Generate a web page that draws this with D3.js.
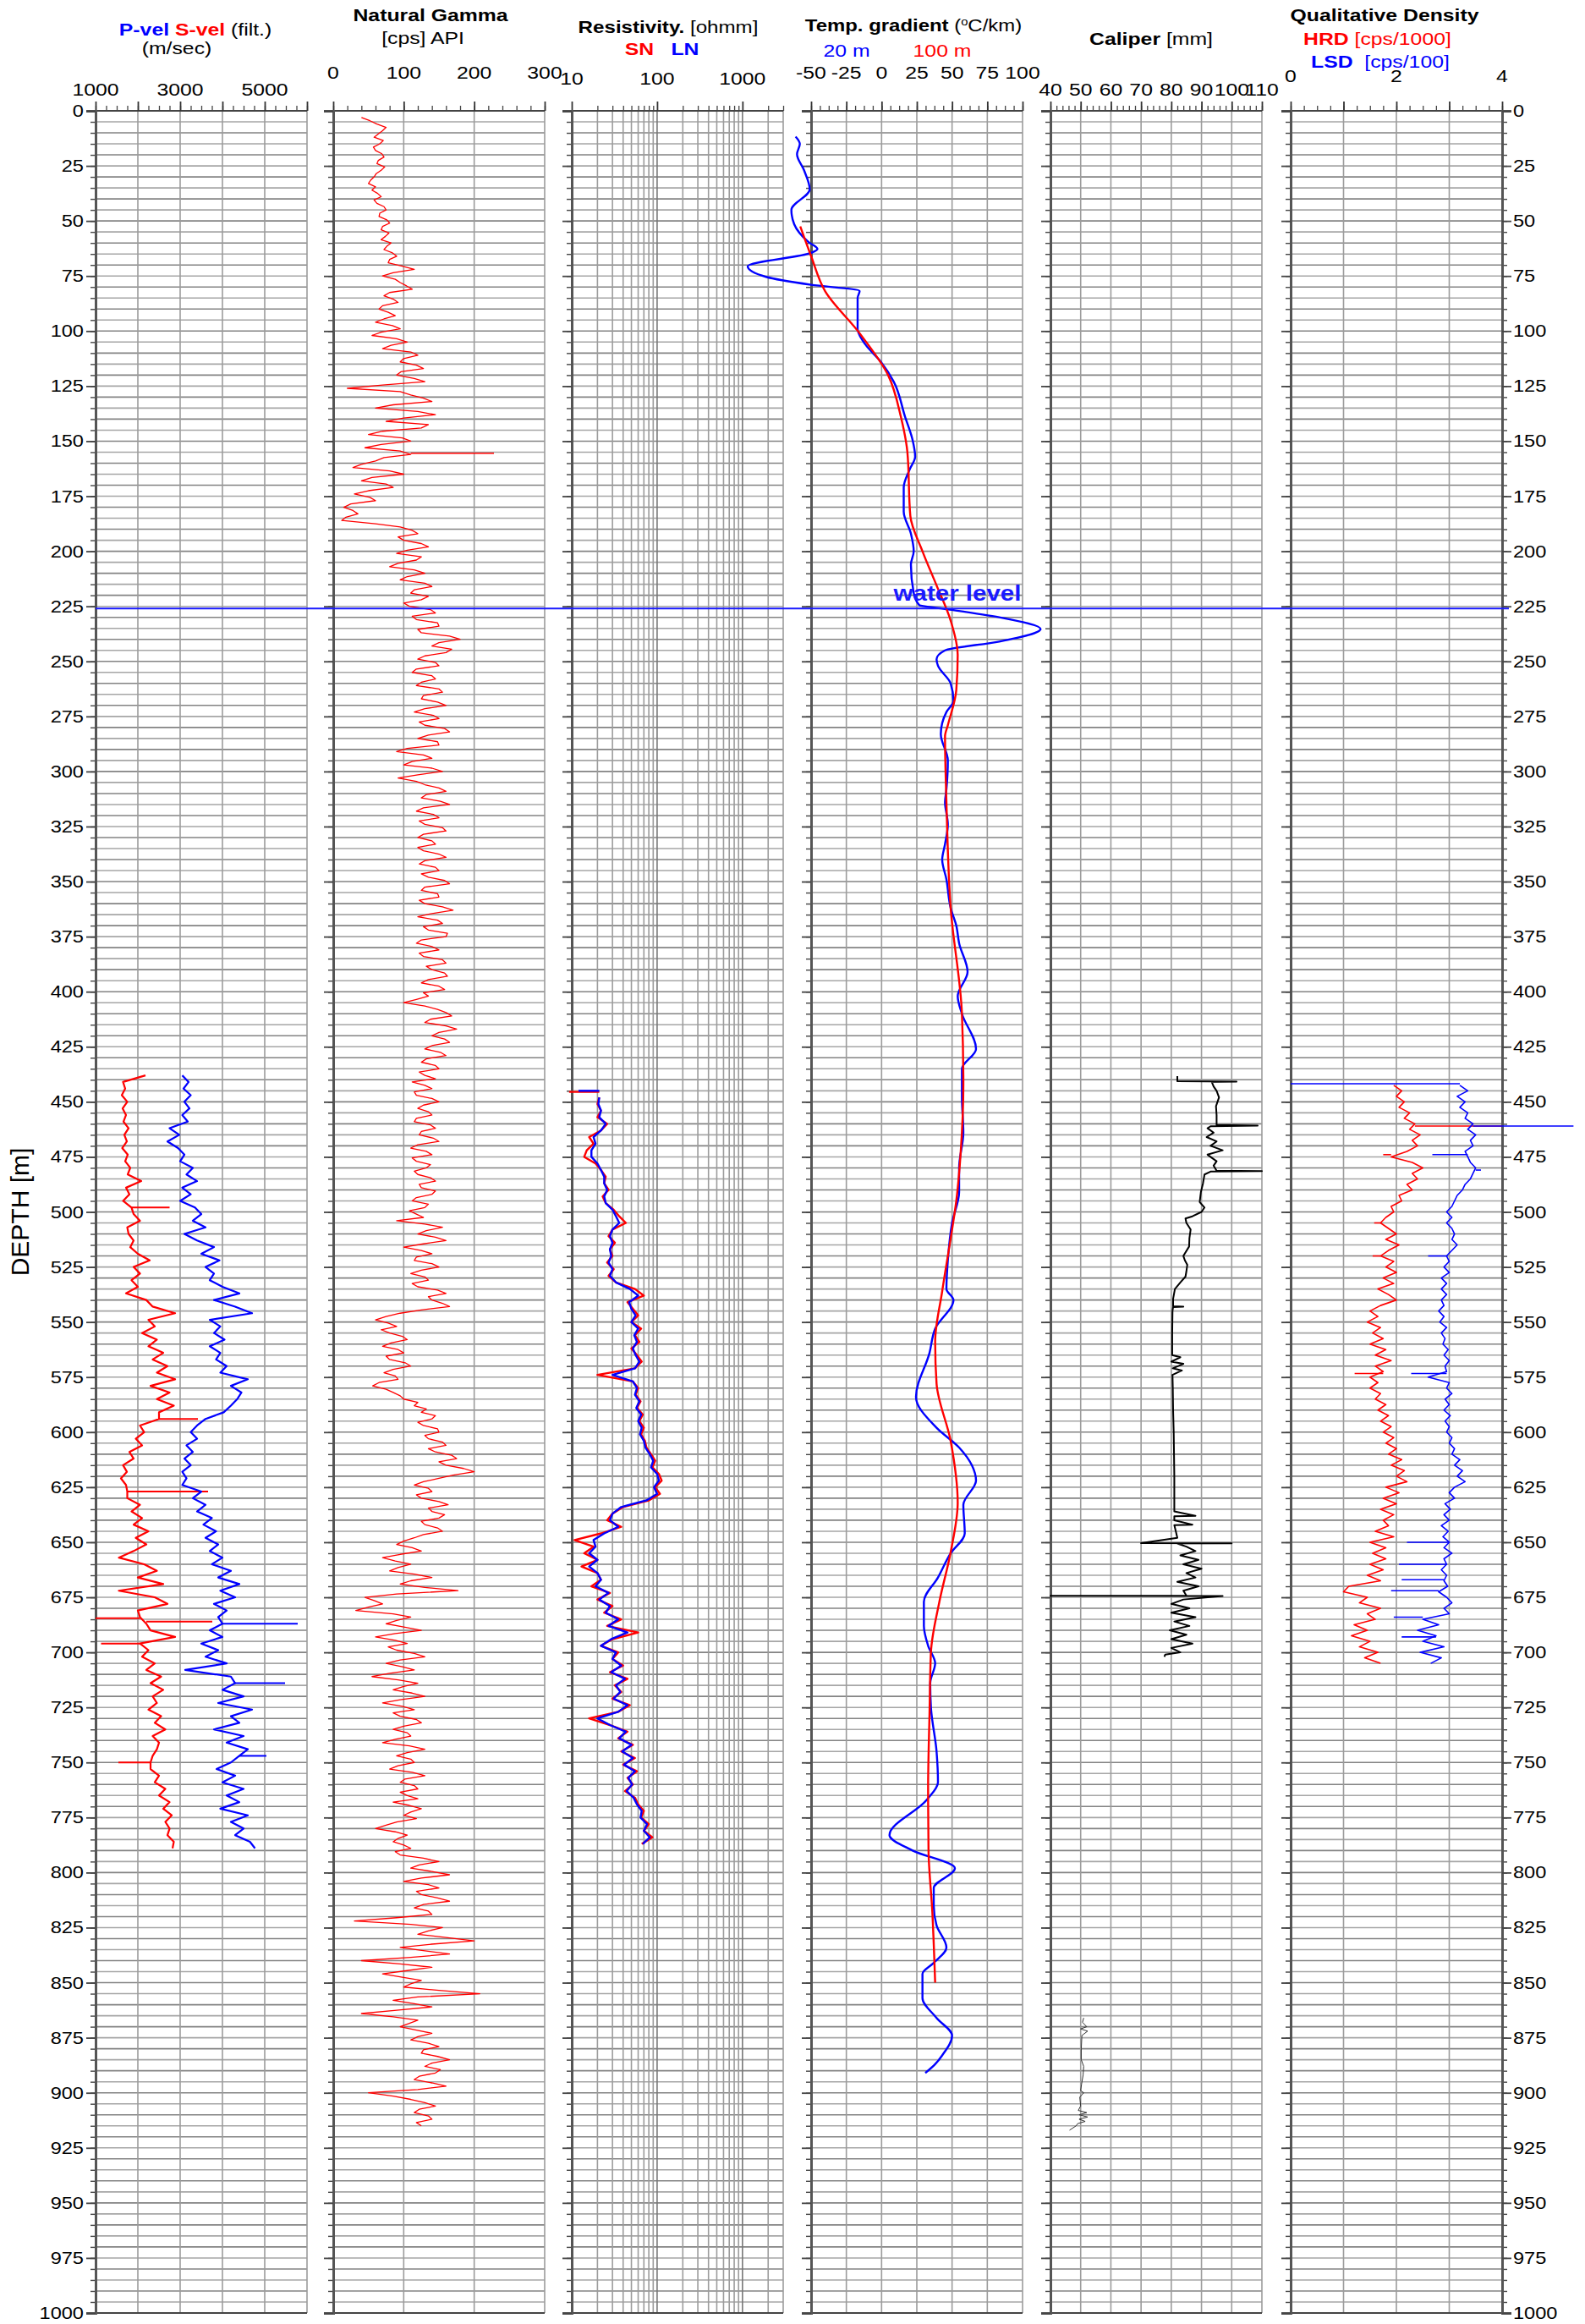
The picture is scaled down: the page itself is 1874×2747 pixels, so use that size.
<!DOCTYPE html>
<html>
<head>
<meta charset="utf-8">
<script src="https://cdn.jsdelivr.net/npm/d3@7"></script>
<style>
  body { margin: 0; background: #fff; }
  svg { display: block; }
  text { font-family: "Liberation Sans", Arial, sans-serif; white-space: pre; }
</style>
</head>
<body>
<script>
// well log, six tracks sharing one depth axis

// ---- data ----
const depthLabels = d3.range(0, 1001, 25);
const waterLevel = 226;

// velocity, every 3 m from 438 m
const velStart = 438;
const sVel = [2180,1650,1700,1620,1750,1640,1720,1660,1780,1680,1740,1630,1760,1700,1820,1760,2080,1720,1800,1650,
  1850,1900,2050,1750,1780,1900,1820,2000,2280,1900,2050,1850,2000,1720,2200,2350,2880,2250,2400,2100,
  2450,2250,2600,2350,2700,2450,2880,2300,2750,2450,2850,2500,2500,2050,2150,1950,2100,1800,1900,1650,
  1740,1600,1720,1750,1750,2050,1850,2100,1900,2250,1950,2200,1900,1550,2150,2450,2000,2600,1550,2400,
  2700,2000,2050,2200,2300,2880,2050,2250,2100,2400,2200,2550,2300,2600,2350,2450,2250,2550,2400,2650,
  2350,2500,2450,2350,2300,2300,2500,2400,2650,2500,2750,2600,2800,2650,2750,2700,2850,2820];
const pVel = [3050,3200,3080,3250,3100,3220,3050,3180,2750,2980,2700,2950,3100,3000,3300,3150,3400,3050,3250,3000,
  3350,3500,3300,3600,3100,3400,3800,3500,3930,3600,3800,3700,4000,4400,3800,4300,4700,3700,3950,3800,
  4050,3700,3950,3850,4100,3950,4600,4200,4450,4350,4200,4030,3600,3400,3250,3400,3150,3300,3100,3250,
  3050,3150,3050,3500,3300,3600,3400,3750,3550,3850,3600,3900,3700,4000,3750,4200,3900,4400,3950,4300,
  3800,4100,3900,4000,3700,4000,3500,3900,3600,4100,3120,4200,4300,4000,4500,3900,4700,4200,4400,3800,
  4500,4100,4600,4400,4200,3860,4300,4000,4500,4100,4400,3950,4600,4200,4500,4300,4650,4770];
const sVelSpikes = [[498, 2750], [594, 3420], [627, 3660], [684.5, 1000], [686, 3760], [696, 1130], [750, 1540]];
const pVelSpikes = [[687, 5780], [714, 5480], [747, 5040]];

// natural gamma, every 1.5 m from 3 m
const gammaStart = 3;
const gamma = [
  40,52,62,75,70,64,58,71,66,57,60,69,72,64,62,73,68,61,58,53,
  50,60,55,63,68,58,62,72,75,66,65,76,80,70,68,79,74,68,82,76,
  72,84,90,80,78,98,115,85,70,88,95,104,112,80,72,85,92,70,65,78,
  88,72,60,84,95,68,55,90,105,82,70,110,120,100,95,118,128,96,90,115,
  130,70,20,95,110,128,140,85,60,120,145,100,75,135,125,70,50,98,110,68,
  45,95,110,72,60,40,28,80,100,55,40,75,85,50,30,52,60,25,15,28,
  35,18,12,60,95,112,120,92,100,125,135,105,90,125,118,92,80,115,130,105,
  95,130,140,115,110,135,125,100,108,138,145,112,118,148,150,120,125,165,180,150,
  140,168,160,130,120,145,150,118,112,140,145,125,118,150,155,128,125,148,160,130,
  115,142,150,122,130,158,165,135,120,148,150,105,90,128,140,112,100,140,155,120,
  92,118,130,150,160,132,125,152,165,128,118,142,150,122,130,155,160,128,120,140,
  145,120,128,150,160,130,122,145,150,125,135,158,165,130,125,148,150,122,130,155,
  170,140,120,148,155,128,135,162,160,125,118,140,150,122,128,155,160,132,140,158,
  162,135,125,150,158,128,135,118,100,130,148,160,168,138,130,160,175,150,140,158,
  165,140,130,152,160,132,125,145,150,122,130,145,112,130,140,115,118,140,150,128,
  120,135,140,118,115,138,145,125,122,142,150,120,110,132,140,112,118,138,132,115,
  120,138,145,122,125,145,140,118,112,135,130,108,118,128,90,130,155,132,120,145,
  160,128,100,125,140,118,115,140,150,125,110,130,135,112,120,148,160,135,140,155,
  165,125,95,75,60,78,90,68,80,98,105,82,70,92,100,75,80,102,110,85,
  72,88,92,65,56,75,85,95,100,120,115,132,125,145,140,120,128,148,150,130,
  135,155,160,135,145,168,175,150,160,185,200,170,150,128,115,135,140,118,125,150,
  163,135,140,158,150,125,130,148,155,128,115,100,90,112,125,95,70,88,110,92,
  80,115,140,110,95,130,177,90,45,58,70,50,32,85,110,90,75,100,125,88,
  60,88,105,78,90,115,130,95,75,98,115,80,55,92,120,100,85,112,130,95,
  70,98,115,85,95,118,125,100,85,105,110,88,70,108,130,105,90,110,115,92,
  80,112,130,102,95,115,120,95,105,120,85,108,125,110,100,118,90,75,60,88,
  105,92,85,100,110,88,95,128,150,122,110,140,165,125,100,135,150,118,125,148,
  165,128,115,135,140,90,30,110,155,135,120,160,200,140,95,130,165,110,40,95,
  140,105,70,98,125,110,100,150,208,120,85,115,140,90,40,85,120,108,95,118,
  140,120,110,135,150,128,125,148,165,140,130,152,145,122,115,140,160,120,50,85,
  110,130,145,122,115,135,140,118,125];
const gammaSpikes = [[155.5, 228]];

// resistivity (ohmm), every 3 m from 448 m
const resStart = 448;
const resSN = [21,20,22,20,26,22,16,18,15,14,19,22,25,24,27,23,25,31,36,43,
  30,27,32,28,30,26,31,27,33,55,70,45,52,60,50,65,55,62,50,58,
  66,55,20,52,60,56,64,58,68,62,70,65,72,75,85,95,88,105,113,95,
  108,80,40,30,26,38,22,10.8,18,14,20,13,20,22,17,28,20,30,24,38,
  26,60,30,22,35,30,40,28,45,32,38,30,48,35,16,28,45,35,52,38,
  55,40,58,45,52,42,55,60,70,65,80,70,88,66];
const resLN = [21,20.5,22,21,25,22,18,19,17,17,20,22,24,24,26,24,25,30,33,36,
  30,28,30,28,29,27,30,28,33,48,60,47,50,56,50,60,54,58,52,56,
  62,55,30,52,58,55,62,57,65,60,66,63,70,73,82,90,85,100,105,92,
  100,75,38,30,28,35,24,18,19,16,20,16,20,22,19,27,21,28,25,35,
  27,45,29,22,33,30,38,29,42,33,37,31,45,35,20,28,43,36,50,39,
  52,41,55,46,51,44,53,58,66,64,76,70,82,68];
const resSNSpikes = [[445.5, 9.3]];
const resLNSpikes = [[445, 12]];

// temperature gradient (degC/km)
const temp20Depth = [11.7,15,19.7,27,35.6,45,51.5,59.5,62.7,64.5,70.6,75.4,79,81.8,85,99,106,114,123,139,
  149,157,163,171,182,192,200,206,219,224.5,226,230,235.3,241,245,249,252,260,268,273,
  283,295,308,314,324,333,340,349,362,370,378,391,402,410,426,435,448,464,480,491,
  505,522,535,540,553,564,584,598,607,615,622,633,646,655,666,677,688,697,705,714,
  725,745,759,767,783,790,798,807,815,824,834,841,846,857,866,874,883,887,891];
const temp20 = [-61,-58,-60,-55,-51,-64,-62,-52,-45.5,-50,-95,-82,-50,-15.6,-17,-17,-11.6,-0.5,8.6,16.7,
  21.8,23.8,19.8,15.7,15.7,20.8,22.8,20.8,22.8,26.8,43,83.5,112.8,83.5,45,39,40,49,51,46,
  42,47,46,45,47,45,43,46,49,53,55,61,54,57,67,57,57,58,55,55,
  50,47,46,51,38,34,24.4,39,55,64,67,58,59,49,40,30,30,33,38,34.5,
  35,39,40,32,5.6,22,52,37,37,39,46,37,29,29,39,50,43,38,31];
const temp100Depth = [52.5,66,82,101,120,139,155,184,200,215.5,231.5,247,263,279,284,314,362,410,442,474,
  495,508,536,559,578,604,632,654.5,677,700,728,762,790,818,850];
const temp100 = [-57.7,-50,-40,-15.6,4.6,13.7,18.3,20.4,29,39,49,54,53,47,45,46,49,57,58,56,
  53,50,43,38,39,49,54,49,41,35,34,33,33.3,36,38];

// caliper (mm)
const calDepth = [438.3,440.6,440.8,441,443,445,448,452,456,460.5,460.8,461.1,462,464,466,468,470,472,474,477,
  479,481.3,481.5,481.7,483,487,491,495.5,498,500,502,503,505,508,512,515.7,520,522,524,527,
  529.4,532,535,539.5,542.8,543,543.2,545,555,565,566,568,569,571,572,574,580,590,600,610,
  620,630,636,638,638.2,640,642,642.2,645,648,650.4,650.5,650.6,652,654,656,658,660,662,664,
  666,668,670,672,674.2,674.3,674.4,676,678,680,682,684,686,688,690,692,694,696,698,700,
  701,702];
const caliper = [82,82,101.6,93.4,94,95,95.8,94.8,95,95,108.6,93,92,94,91.7,95,93,97,92,95,
  94,95,110,93,91,90.5,89.8,89.4,91,90,87,84.7,85,86.4,86,85.9,84,84.5,85.3,85,
  84.7,83,81.2,80.6,80.6,84,80.6,80.4,80.3,80.3,83,80,84,80.5,83.5,80.4,80.5,80.6,80.8,80.9,
  81,81,81,88,81,81,87,81,81.5,82,70,100,82,85,88,83,89,84,90,85,
  88,82,89,84,85,40,97,84,80,86,80,88,81,86,79.5,85,80,87,80,83,
  78,77.7];
const calLowDepth = [866,868,870,871,872,874,880,885,888,892,896,899,900,902,906,908,909,910,911,912,913,914,915,917];
const calLow = [51,50.6,52,50,52.3,50.4,50.2,50.2,51,50.8,50.3,50,51,49.7,50,49.2,52,49.5,52.3,49.5,51.5,49,48.5,46.3];

// qualitative density, every 2.5 m from 442.5 m
const densStart = 442.5;
const hrd = [1.95,2.1,2.0,2.15,2.05,2.25,2.15,2.35,2.25,2.45,2.3,2.4,2.2,1.9,2.3,2.5,2.3,2.4,2.2,2.3,
  2.05,2.1,1.9,1.95,1.8,1.7,1.85,2.0,1.8,2.05,1.85,1.7,1.95,1.8,2.0,1.75,1.95,1.65,1.85,2.0,
  1.7,1.5,1.65,1.45,1.7,1.55,1.75,1.5,1.8,1.6,1.9,1.6,1.75,1.5,1.65,1.5,1.7,1.6,1.8,1.65,
  1.85,1.7,1.9,1.75,1.95,1.8,2.0,1.85,2.1,1.9,2.15,2.0,2.2,1.8,2.05,1.75,2.0,1.7,1.95,1.75,
  1.85,1.6,1.95,1.5,1.8,1.55,1.8,1.5,1.75,1.45,1.7,1.1,1.0,1.45,1.3,1.7,1.45,1.6,1.2,1.45,
  1.15,1.5,1.3,1.65,1.4,1.7];
const lsd = [3.2,3.35,3.15,3.3,3.2,3.35,3.3,3.45,3.35,3.5,3.4,3.45,3.3,3.35,3.4,3.5,3.45,3.4,3.3,3.25,
  3.15,3.1,3.05,2.95,3.05,2.95,3.05,3.1,3.05,3.15,3.05,2.95,3.0,2.9,3.0,2.85,2.95,2.85,2.95,2.85,
  2.9,2.8,2.9,2.82,2.95,2.85,2.92,2.88,2.98,2.9,3.0,2.92,2.95,2.6,3.0,2.95,3.05,2.92,3.0,2.9,
  3.02,2.92,3.0,2.95,3.05,3.0,3.1,3.05,3.2,3.1,3.25,3.15,3.3,3.1,3.0,3.1,2.92,3.02,2.9,3.0,
  2.85,2.98,2.88,3.0,2.9,3.05,2.9,2.95,2.85,2.95,2.9,2.97,2.8,2.95,3.05,2.9,3.0,2.5,2.8,2.4,
  2.75,2.5,2.9,2.45,2.85,2.65];
const hrdSpikes = [[461, 4.0], [474, 1.75], [505, 1.58], [520, 1.55], [573.4, 1.21], [672.5, 1.0]];
const lsdSpikes = [[441.8, 0], [461, 5.35], [474, 2.68], [481, 3.6], [520, 2.6], [573.4, 2.28],
  [650, 2.2], [660, 2.05], [667, 2.1], [672, 1.9], [684, 1.95], [693, 2.1]];

// ---- layout ----
const width = 1874, height = 2747;
const trackX = [113, 394, 676, 959, 1242, 1526];
const trackW = 250;
const y = d3.scaleLinear().domain([0, 1000]).range([131, 2734]);

const svg = d3.select('body').append('svg').attr('width', width).attr('height', height);

// the reference text is a little stretched sideways
function txt(x, yy, parts, o = {}) {
  const t = svg.append('text')
    .attr('transform', `translate(${x},${yy}) scale(${o.sx || 1.18},1)`)
    .attr('text-anchor', o.anchor || 'middle')
    .attr('font-size', o.size || 21);
  parts.forEach(p => {
    const s = t.append('tspan').text(p[0]).attr('fill', p[1] || '#000').attr('font-weight', p[2] || 'normal');
    if (p[3]) s.attr('dy', -7).attr('font-size', p[3]);
    if (p[4]) s.attr('dy', 7);
  });
  return t;
}

const lin = (a, b, i) => d3.scaleLinear().domain([a, b]).range([trackX[i], trackX[i] + trackW]);
const logMinor = [20,30,40,50,60,70,80,90,200,300,400,500,600,700,800,900,2000,3000];

const tracks = [
  {x: lin(1000, 6000, 0), grid: d3.range(2000, 6001, 1000), major: d3.range(1000, 6001, 1000),
    minor: d3.range(1000, 6001, 250), labels: [1000, 3000, 5000], labelY: 113},
  {x: lin(0, 300, 1), grid: [100, 200, 300], major: [0, 100, 200, 300],
    minor: d3.range(0, 301, 20), labels: [0, 100, 200, 300], labelY: 93},
  {x: d3.scaleLog().domain([10, 3000]).range([trackX[2], trackX[2] + trackW]), grid: logMinor.concat([100, 1000]),
    major: [10, 100, 1000], minor: logMinor, labels: [10, 100, 1000], labelY: 100},
  {x: lin(-50, 100, 3), grid: d3.range(-25, 101, 25), major: d3.range(-50, 101, 25),
    minor: d3.range(-50, 101, 6.25), labels: d3.range(-50, 101, 25), labelY: 93},
  {x: lin(40, 110, 4), grid: d3.range(50, 111, 10), major: d3.range(40, 111, 10),
    minor: d3.range(40, 111, 2), labels: d3.range(40, 111, 10), labelY: 113},
  {x: lin(0, 4, 5), grid: [1, 2, 3, 4], major: [0, 1, 2, 3, 4],
    minor: d3.range(0, 4.01, 0.25), labels: [0, 2, 4], labelY: 97}
];

// ---- track frames ----
tracks.forEach((t, i) => {
  const x0 = trackX[i], x1 = x0 + trackW;
  const g = svg.append('g');

  g.selectAll('line.h').data(d3.range(5, 1000, 5)).join('line')
    .attr('x1', x0).attr('x2', x1)
    .attr('y1', d => y(d)).attr('y2', d => y(d))
    .attr('stroke', d => d % 10 === 0 ? '#838383' : '#a6a6a6')
    .attr('stroke-width', 1.6);

  g.selectAll('line.v').data(t.grid).join('line')
    .attr('x1', d => t.x(d)).attr('x2', d => t.x(d))
    .attr('y1', y(0)).attr('y2', y(1000))
    .attr('stroke', d => (i === 2 && (d === 100 || d === 1000)) ? '#777' : '#9c9c9c')
    .attr('stroke-width', 1.6);

  [0, 1000].forEach(d => g.append('line')
    .attr('x1', x0).attr('x2', x1).attr('y1', y(d)).attr('y2', y(d))
    .attr('stroke', '#444').attr('stroke-width', 2));

  // top scale ticks
  g.append('g').attr('transform', `translate(0,${y(0)})`)
    .call(d3.axisTop(t.x).tickValues(t.minor).tickSize(6).tickFormat(''))
    .call(a => a.select('.domain').remove())
    .call(a => a.selectAll('line').attr('stroke', '#444').attr('stroke-width', 1.3));
  g.append('g').attr('transform', `translate(0,${y(0)})`)
    .call(d3.axisTop(t.x).tickValues(t.major).tickSize(11).tickFormat(''))
    .call(a => a.select('.domain').remove())
    .call(a => a.selectAll('line').attr('stroke', '#333').attr('stroke-width', 1.8));

  // depth ticks on the left edge of every track
  g.append('g').attr('transform', `translate(${x0},0)`)
    .call(d3.axisLeft(y).tickValues(d3.range(0, 1001, 5)).tickSize(6).tickFormat(''))
    .call(a => a.select('.domain').remove())
    .call(a => a.selectAll('line').attr('stroke', '#444').attr('stroke-width', 1.4));
  g.append('g').attr('transform', `translate(${x0},0)`)
    .call(d3.axisLeft(y).tickValues(depthLabels).tickSize(11).tickFormat(''))
    .call(a => a.select('.domain').attr('stroke', '#555').attr('stroke-width', 3))
    .call(a => a.selectAll('line').attr('stroke', '#444').attr('stroke-width', 1.8));

  t.labels.forEach(v => txt(t.x(v), t.labelY, [[String(v)]]));
});

// right hand depth axis
svg.append('g').attr('transform', `translate(${trackX[5] + trackW},0)`)
  .call(d3.axisRight(y).tickValues(d3.range(0, 1001, 5)).tickSize(6).tickFormat(''))
  .call(a => a.select('.domain').remove())
  .call(a => a.selectAll('line').attr('stroke', '#444').attr('stroke-width', 1.4));
svg.append('g').attr('transform', `translate(${trackX[5] + trackW},0)`)
  .call(d3.axisRight(y).tickValues(depthLabels).tickSize(11).tickFormat(''))
  .call(a => a.select('.domain').attr('stroke', '#555').attr('stroke-width', 3))
  .call(a => a.selectAll('line').attr('stroke', '#444').attr('stroke-width', 1.8));

depthLabels.forEach(d => {
  txt(99, y(d) + 7, [[String(d)]], {anchor: 'end', size: 20});
  txt(1789, y(d) + 7, [[String(d)]], {anchor: 'start', size: 20});
});

svg.append('text')
  .attr('transform', `translate(34,${(y(0) + y(1000)) / 2}) rotate(-90)`)
  .attr('text-anchor', 'middle').attr('font-size', 30).text('DEPTH [m]');

// ---- headers ----
txt(231, 42, [['P-vel ', '#0000ff', 'bold'], ['S-vel ', '#ff0000', 'bold'], ['(filt.)']]);
txt(209, 64, [['(m/sec)']]);
txt(509, 25, [['Natural Gamma', '#000', 'bold']]);
txt(500, 52, [['[cps] API']]);
txt(790, 39, [['Resistivity.', '#000', 'bold'], [' [ohmm]']], {sx: 1.15});
txt(756, 65, [['SN', '#ff0000', 'bold']]);
txt(810, 65, [['LN', '#0000ff', 'bold']]);
txt(1080, 37, [['Temp. gradient', '#000', 'bold'], [' ('], ['o', '#000', 'normal', 13], ['C/km)', '#000', 'normal', 0, true]], {sx: 1.14});
txt(1001, 67, [['20 m', '#0000ff']]);
txt(1114, 67, [['100 m', '#ff0000']]);
txt(1361, 53, [['Caliper', '#000', 'bold'], [' [mm]']]);
txt(1637, 25, [['Qualitative Density', '#000', 'bold']]);
txt(1541, 53, [['HRD', '#ff0000', 'bold'], [' [cps/1000]', '#ff0000']], {anchor: 'start'});
txt(1550, 80, [['LSD', '#0000ff', 'bold'], ['  [cps/100]', '#0000ff']], {anchor: 'start'});

// ---- curves ----
const stepSeries = (start, step, vals) => vals.map((v, i) => [start + i * step, v]);
const curves = svg.append('g').attr('fill', 'none').attr('stroke-linejoin', 'round');

function drawCurve(series, sx, color, w, curve) {
  curves.append('path').datum(series)
    .attr('d', d3.line().x(d => sx(d[1])).y(d => y(d[0])).curve(curve || d3.curveLinear))
    .attr('stroke', color).attr('stroke-width', w);
}
function drawSpikes(series, spikes, sx, color, w) {
  curves.selectAll(null).data(spikes).join('line')
    .attr('x1', d => sx(d3.least(series, p => Math.abs(p[0] - d[0]))[1]))
    .attr('x2', d => sx(d[1]))
    .attr('y1', d => y(d[0])).attr('y2', d => y(d[0]))
    .attr('stroke', color).attr('stroke-width', w);
}

const T = tracks.map(t => t.x);

const sSer = stepSeries(velStart, 3, sVel), pSer = stepSeries(velStart, 3, pVel);
drawCurve(sSer, T[0], '#ff0000', 2.2);
drawSpikes(sSer, sVelSpikes, T[0], '#ff0000', 2);
drawCurve(pSer, T[0], '#0000ff', 2.2);
drawSpikes(pSer, pVelSpikes, T[0], '#0000ff', 2);

const gSer = stepSeries(gammaStart, 1.5, gamma);
drawCurve(gSer, T[1], '#ff0000', 1.3);
drawSpikes(gSer, gammaSpikes, T[1], '#ff0000', 1.3);

const snSer = stepSeries(resStart, 3, resSN), lnSer = stepSeries(resStart, 3, resLN);
drawCurve(snSer, T[2], '#ff0000', 2.4);
drawSpikes(snSer, resSNSpikes, T[2], '#ff0000', 2.4);
drawCurve(lnSer, T[2], '#0000ff', 2.4);
drawSpikes(lnSer, resLNSpikes, T[2], '#0000ff', 2.4);

drawCurve(d3.zip(temp20Depth, temp20), T[3], '#0000ff', 2.4, d3.curveMonotoneY);
drawCurve(d3.zip(temp100Depth, temp100), T[3], '#ff0000', 2.4, d3.curveMonotoneY);

drawCurve(d3.zip(calDepth, caliper), T[4], '#000', 2);
drawCurve(d3.zip(calLowDepth, calLow), T[4], '#333', 1);

const hSer = stepSeries(densStart, 2.5, hrd), lSer = stepSeries(densStart, 2.5, lsd);
drawCurve(hSer, T[5], '#ff0000', 1.6);
drawSpikes(hSer, hrdSpikes, T[5], '#ff0000', 1.6);
drawCurve(lSer, T[5], '#0000ff', 1.6);
drawSpikes(lSer, lsdSpikes, T[5], '#0000ff', 1.6);

// ---- water level ----
svg.append('line')
  .attr('x1', trackX[0]).attr('x2', trackX[5] + trackW + 8)
  .attr('y1', y(waterLevel)).attr('y2', y(waterLevel))
  .attr('stroke', '#1a1aff').attr('stroke-width', 2);
txt(1132, y(waterLevel) - 9, [['water level', '#1a1aff', 'bold']], {size: 25});
</script>
</body>
</html>
